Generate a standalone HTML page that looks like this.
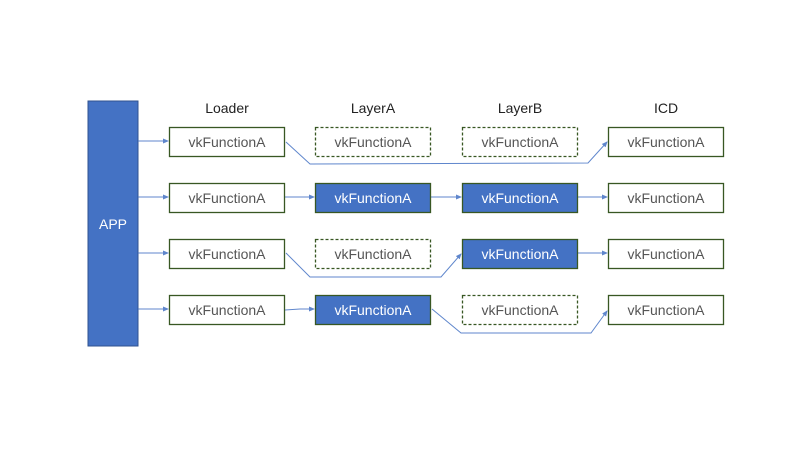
<!DOCTYPE html>
<html><head><meta charset="utf-8"><style>
html,body{margin:0;padding:0;background:#fff;width:800px;height:450px;overflow:hidden}
svg{display:block}
text{font-family:"Liberation Sans","Noto Sans CJK SC",sans-serif}
</style></head><body>
<svg width="800" height="450" viewBox="0 0 800 450" xmlns="http://www.w3.org/2000/svg">
<defs>
<marker id="a" markerWidth="6" markerHeight="6" refX="5" refY="3" orient="auto" markerUnits="userSpaceOnUse">
<path d="M0,0.5 L6,3 L0,5.5 z" fill="#4472c4"/></marker>
</defs>
<rect x="88" y="101" width="50" height="245" fill="#4472c4" stroke="#2f528f" stroke-width="1"/>
<text x="113" y="229" font-size="14" fill="#fff" text-anchor="middle">APP</text>
<g font-size="14" fill="#222" text-anchor="middle">
<text x="227" y="113">Loader</text>
<text x="373" y="113">LayerA</text>
<text x="520" y="113">LayerB</text>
<text x="666" y="113">ICD</text>
</g>
<g stroke="#4472c4" stroke-width="1" fill="none" opacity="0.85">
<line x1="138" y1="141" x2="168" y2="141" marker-end="url(#a)"/>
<line x1="138" y1="197" x2="168" y2="197" marker-end="url(#a)"/>
<line x1="138" y1="253" x2="168" y2="253" marker-end="url(#a)"/>
<line x1="138" y1="309" x2="168" y2="309" marker-end="url(#a)"/>
<polyline points="286,142 310,164 588,163 607,142" marker-end="url(#a)"/>
<line x1="285" y1="197" x2="314" y2="197" marker-end="url(#a)"/>
<line x1="431" y1="197" x2="461" y2="197" marker-end="url(#a)"/>
<line x1="578" y1="197" x2="607" y2="197" marker-end="url(#a)"/>
<polyline points="286,253 310,277 441,277 461,254" marker-end="url(#a)"/>
<line x1="578" y1="253" x2="607" y2="253" marker-end="url(#a)"/>
<polyline points="285,310 300,309 314,309" marker-end="url(#a)"/>
<polyline points="432,309 461,333 591,333 607,311" marker-end="url(#a)"/>
</g>
<g stroke="#385723" stroke-width="1.3">
<!-- row1 -->
<rect x="169.5" y="127.5" width="115" height="29" fill="#fff"/>
<rect x="315.5" y="127.5" width="115" height="29" fill="#fff" stroke-dasharray="3,2"/>
<rect x="462.5" y="127.5" width="115" height="29" fill="#fff" stroke-dasharray="3,2"/>
<rect x="608.5" y="127.5" width="115" height="29" fill="#fff"/>
<!-- row2 -->
<rect x="169.5" y="183.5" width="115" height="29" fill="#fff"/>
<rect x="315.5" y="183.5" width="115" height="29" fill="#4472c4"/>
<rect x="462.5" y="183.5" width="115" height="29" fill="#4472c4"/>
<rect x="608.5" y="183.5" width="115" height="29" fill="#fff"/>
<!-- row3 -->
<rect x="169.5" y="239.5" width="115" height="29" fill="#fff"/>
<rect x="315.5" y="239.5" width="115" height="29" fill="#fff" stroke-dasharray="3,2"/>
<rect x="462.5" y="239.5" width="115" height="29" fill="#4472c4"/>
<rect x="608.5" y="239.5" width="115" height="29" fill="#fff"/>
<!-- row4 -->
<rect x="169.5" y="295.5" width="115" height="29" fill="#fff"/>
<rect x="315.5" y="295.5" width="115" height="29" fill="#4472c4"/>
<rect x="462.5" y="295.5" width="115" height="29" fill="#fff" stroke-dasharray="3,2"/>
<rect x="608.5" y="295.5" width="115" height="29" fill="#fff"/>
</g>
<g font-size="14" text-anchor="middle" fill="#555">
<text x="227" y="147">vkFunctionA</text><text x="373" y="147">vkFunctionA</text><text x="520" y="147">vkFunctionA</text><text x="666" y="147">vkFunctionA</text>
<text x="227" y="203">vkFunctionA</text><text x="373" y="203" fill="#fff">vkFunctionA</text><text x="520" y="203" fill="#fff">vkFunctionA</text><text x="666" y="203">vkFunctionA</text>
<text x="227" y="259">vkFunctionA</text><text x="373" y="259">vkFunctionA</text><text x="520" y="259" fill="#fff">vkFunctionA</text><text x="666" y="259">vkFunctionA</text>
<text x="227" y="315">vkFunctionA</text><text x="373" y="315" fill="#fff">vkFunctionA</text><text x="520" y="315">vkFunctionA</text><text x="666" y="315">vkFunctionA</text>
</g>
</svg>
</body></html>
